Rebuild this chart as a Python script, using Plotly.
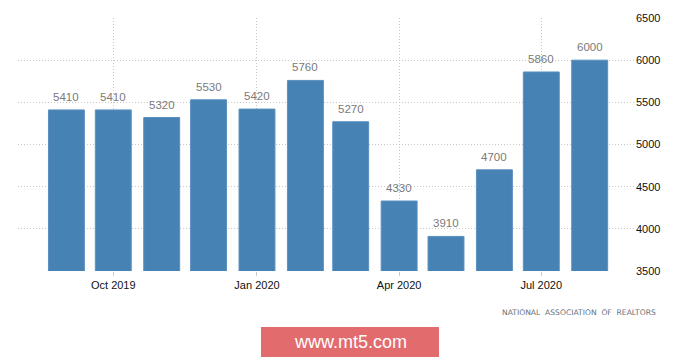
import plotly.graph_objects as go

months = ["2019-09-01", "2019-10-01", "2019-11-01", "2019-12-01", "2020-01-01", "2020-02-01",
          "2020-03-01", "2020-04-01", "2020-05-01", "2020-06-01", "2020-07-01", "2020-08-01"]
sales = [5410, 5410, 5320, 5530, 5420, 5760, 5270, 4330, 3910, 4700, 5860, 6000]
tick_dates = ["2019-10-01", "2020-01-01", "2020-04-01", "2020-07-01"]
tick_labels = ["Oct 2019", "Jan 2020", "Apr 2020", "Jul 2020"]
y_ticks = [3500, 4000, 4500, 5000, 5500, 6000, 6500]

W, H = 700, 358
ML, MR, MT, MB = 18, 65, 18, 87
PW, PH = W - ML - MR, H - MT - MB

def px_x(x):
    return (x - ML) / PW

def px_y(y):
    return 1 - (y - MT) / PH

DAY_MS = 24 * 3600 * 1000

fig = go.Figure()
fig.add_trace(go.Bar(
    x=months, y=sales,
    width=23 * DAY_MS,
    marker=dict(color="#4682b4", line=dict(color="#5a90c0", width=1)),
    hoverinfo="x+y",
))

for m, v in zip(months, sales):
    fig.add_annotation(x=m, y=v, text=str(v), showarrow=False, yanchor="bottom",
                       yshift=5, font=dict(family="Liberation Sans, Arial", size=11.5, color="#7a7a7a"))

fig.add_annotation(xref="paper", yref="paper", x=px_x(658), y=px_y(312), xanchor="right", yanchor="middle",
                   text="NATIONAL  ASSOCIATION  OF  REALTORS", showarrow=False,
                   font=dict(family="DejaVu Sans", size=7.6, color="#6a6f78"))

fig.add_shape(type="rect", xref="paper", yref="paper",
              x0=px_x(261), x1=px_x(439), y0=px_y(357), y1=px_y(327),
              fillcolor="#e26b6e", line=dict(width=0), layer="above")
fig.add_annotation(xref="paper", yref="paper", x=px_x(350), y=px_y(342), xanchor="center", yanchor="middle",
                   text="www.mt5.com", showarrow=False,
                   font=dict(family="Liberation Sans, Arial", size=18, color="#ffffff"))

fig.update_layout(
    width=W, height=H,
    margin=dict(l=ML, r=MR, t=MT, b=MB),
    paper_bgcolor="#ffffff", plot_bgcolor="#ffffff",
    showlegend=False,
    xaxis=dict(
        type="date",
        range=["2019-08-01", "2020-08-30"],
        tickvals=tick_dates, ticktext=tick_labels,
        showgrid=True, gridcolor="#c8c8c8", griddash="1px,2px", gridwidth=1,
        ticks="outside", ticklen=4, tickcolor="#c8c8c8",
        tickfont=dict(family="Liberation Sans, Arial", size=11, color="#111111"),
        showline=False, zeroline=False,
    ),
    yaxis=dict(
        side="right",
        range=[3500, 6500],
        tickvals=y_ticks,
        showgrid=True, gridcolor="#c8c8c8", griddash="1px,2px", gridwidth=1,
        tickfont=dict(family="Liberation Sans, Arial", size=11, color="#111111"),
        showline=False, zeroline=False, ticks="",
    ),
)

fig.write_html("out.html", config={"displayModeBar": False},
               post_script="document.body.style.margin='0';document.body.style.overflow='hidden';")
